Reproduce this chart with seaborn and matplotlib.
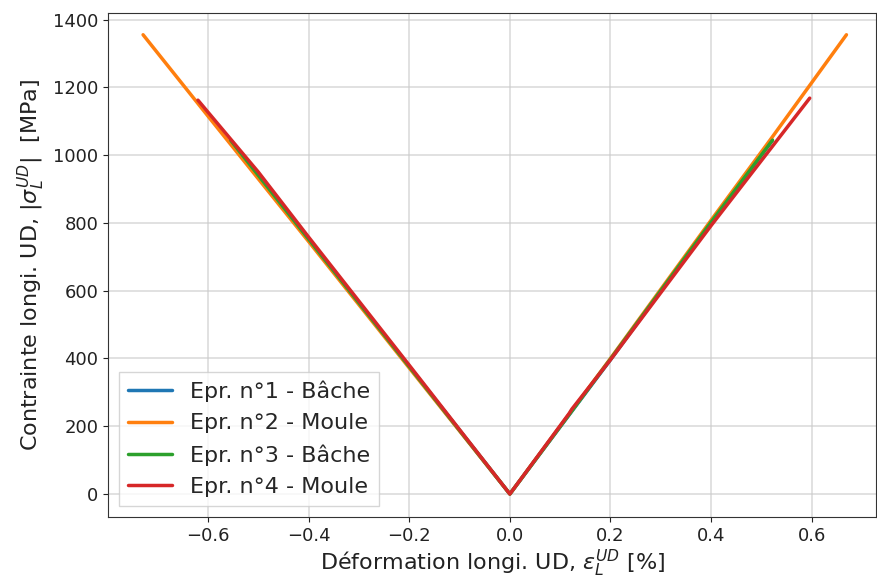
import matplotlib
matplotlib.use("Agg")
import matplotlib.pyplot as plt
import seaborn as sns
import pandas as pd

labels = ["Epr. n°1 - Bâche", "Epr. n°2 - Moule", "Epr. n°3 - Bâche", "Epr. n°4 - Moule"]
colors = ["#1f77b4", "#ff7f0e", "#2ca02c", "#d62728"]

# deformation [%] and |stress| [MPa] per specimen (compression branch -> 0 -> tension branch)
eps_1 = [-0.555, -0.40, -0.20, 0.0, 0.20, 0.40, 0.522]
sig_1 = [1044, 752, 376, 0, 396, 800, 1044]
eps_2 = [-0.729, -0.60, -0.40, -0.20, 0.0, 0.20, 0.40, 0.52, 0.669]
sig_2 = [1355, 1115, 745, 372, 0, 400, 808, 1050, 1355]
eps_3 = [-0.555, -0.40, -0.20, 0.0, 0.20, 0.40, 0.522]
sig_3 = [1044, 752, 376, 0, 398, 802, 1044]
eps_4 = [-0.62, -0.50, -0.40, -0.20, 0.0, 0.118, 0.123, 0.20, 0.40, 0.596]
sig_4 = [1162, 950, 758, 380, 0, 238, 250, 396, 792, 1168]

eps_all = [eps_1, eps_2, eps_3, eps_4]
sig_all = [sig_1, sig_2, sig_3, sig_4]

sns.set_style("ticks")
fig, ax = plt.subplots(figsize=(8.77, 5.79), dpi=100)

for lab, col, e, s in zip(labels, colors, eps_all, sig_all):
    df = pd.DataFrame({"eps": e, "sig": s})
    sns.lineplot(data=df, x="eps", y="sig", sort=False, color=col, lw=2.5,
                 label=lab, ax=ax)

ax.set_xlim(-0.799, 0.728)
ax.set_ylim(-68, 1420)
ax.set_xticks([-0.6, -0.4, -0.2, 0.0, 0.2, 0.4, 0.6])
ax.set_yticks(range(0, 1401, 200))
ax.grid(True, color="#cccccc", lw=1.2, alpha=0.7)
ax.tick_params(labelsize=13, colors="#222222")
for sp in ax.spines.values():
    sp.set_color("#333333")
ax.set_xlabel(r"Déformation longi. UD, $\varepsilon_L^{UD}$ [%]", fontsize=16,
              color="#222222", labelpad=2)
ax.set_ylabel(r"Contrainte longi. UD, $|\sigma_L^{UD}|$  [MPa]", fontsize=16,
              color="#222222", labelpad=4)
ax.legend(loc="lower left", fontsize=16, frameon=True, fancybox=False,
          edgecolor="#cccccc", handlelength=2.0, borderpad=0.4)

plt.subplots_adjust(left=0.123, right=0.999, top=0.978, bottom=0.107)
plt.savefig("out.png", dpi=100)
